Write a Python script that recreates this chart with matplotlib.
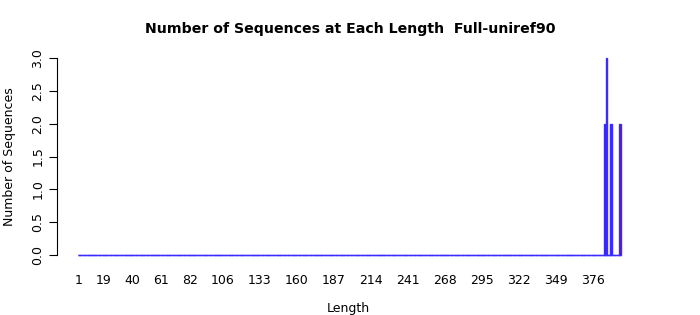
import numpy as np
from matplotlib import pyplot as plt

# lengths 1..396, only a handful of them have sequences
lengths = np.arange(1, 397)
nonzero_lengths = [385, 386, 389, 390, 396]
nonzero_counts = [2, 3, 2, 2, 2]
tick_lengths = [1, 19, 40, 61, 82, 106, 133, 160, 187, 214, 241, 268, 295, 322, 349, 376]
y_ticks = [0.0, 0.5, 1.0, 1.5, 2.0, 2.5, 3.0]

counts = np.zeros(len(lengths))
for l, c in zip(nonzero_lengths, nonzero_counts):
    counts[l - 1] = c

bar_w = 0.833
edge_col = '#3b2bff'

fig = plt.figure(figsize=(7, 3.15), dpi=100)
# axes box in pixels: x 57..640, y 58..255
ax = fig.add_axes([57 / 700, 1 - 255 / 315, (640 - 57) / 700, (255 - 58) / 315])

ax.bar(lengths, counts, width=bar_w, color='#5a10c8', edgecolor=edge_col,
       linewidth=1.0, clip_on=False)
# zero-height bars show up as one long line in the original
ax.plot([lengths[0] - bar_w / 2, lengths[-1] + bar_w / 2], [0, 0],
        color=edge_col, lw=1.0, clip_on=False, solid_capstyle='butt')

ax.set_xlim(-15.06, 410.6)
ax.set_ylim(0, 3)

for s in ['top', 'right', 'bottom']:
    ax.spines[s].set_visible(False)
ax.spines['left'].set_linewidth(0.8)

ax.set_yticks(y_ticks)
ax.set_yticklabels(['%.1f' % v for v in y_ticks], rotation=90, va='center', fontsize=9)
ax.tick_params(axis='y', length=6, width=0.8, pad=3)

ax.set_xticks(tick_lengths)
ax.set_xticklabels([str(t) for t in tick_lengths], fontsize=9)
ax.tick_params(axis='x', length=0, pad=13.9)

ax.set_xlabel('Length', fontsize=9, labelpad=10.5)
ax.set_ylabel('Number of Sequences', fontsize=9, labelpad=11)
fig.text(350 / 700, 1 - 29 / 315, 'Number of Sequences at Each Length  Full-uniref90',
         ha='center', va='center', fontsize=10.2, fontweight='bold')

fig.savefig('out.png', dpi=100)
